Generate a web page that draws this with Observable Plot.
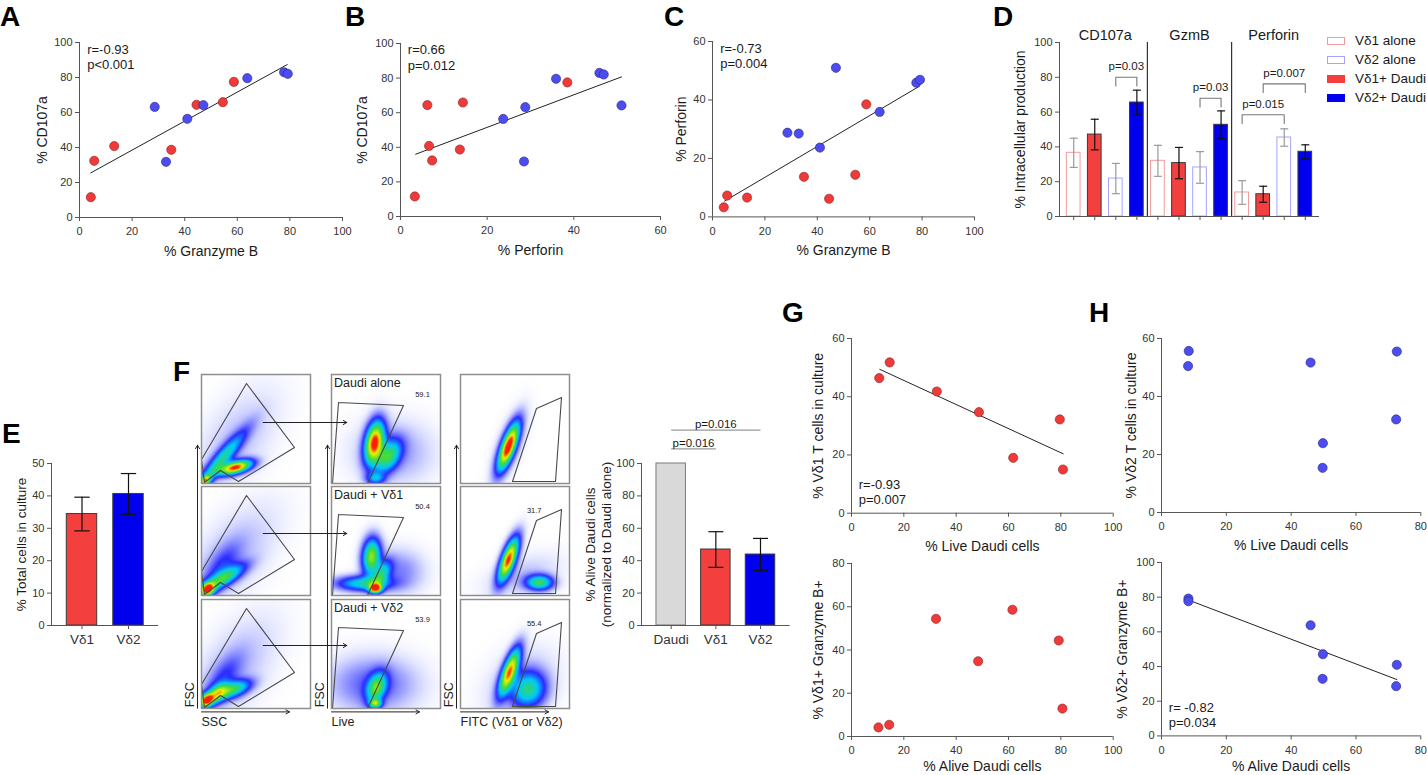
<!DOCTYPE html>
<html><head><meta charset="utf-8">
<script src="https://cdn.jsdelivr.net/npm/d3@7"></script>
<script src="https://cdn.jsdelivr.net/npm/@observablehq/plot@0.6"></script>
<style>
html,body{margin:0;padding:0;background:#fff;}
#root{position:relative;width:1427px;height:775px;overflow:hidden;background:#fff;font-family:'Liberation Sans',Arial,Helvetica,sans-serif;color:#1a1a1a;}
.letter{position:absolute;font-weight:bold;font-size:28px;line-height:28px;color:#000;}
.leg{position:absolute;font-size:13.5px;line-height:16px;white-space:nowrap;color:#1a1a1a;}
.sw{position:absolute;width:18px;height:8px;box-sizing:border-box;}
</style></head><body><div id="root"></div>
<script>
// ================= DATA =================
// Panels A–C : one point per donor (Vδ1 red, Vδ2 blue)
const gzmbVd1     = [4.3, 5.6, 13.2, 34.9, 44.5, 54.5, 58.7];
const cd107aVd1   = [11.6, 32.4, 40.8, 38.7, 64.4, 65.9, 77.5];
const perforinVd1 = [3.3, 7.3, 6.6, 13.7, 6.2, 14.4, 38.5];
const gzmbVd2     = [28.6, 32.9, 41.0, 47.1, 63.8, 77.8, 79.2];
const cd107aVd2   = [63.2, 31.8, 56.4, 64.2, 79.6, 83.0, 82.1];
const perforinVd2 = [28.8, 28.5, 23.7, 51.0, 35.9, 45.9, 46.9];
const fitA = {x: [4.3, 79.0], y: [25.5, 87.4]};
const fitB = {x: [3.5, 51.0], y: [36.0, 80.7]};
const fitC = {x: [4.6, 79.0], y: [5.4, 44.7]};
const statsA = ["r=-0.93", "p<0.001"];
const statsB = ["r=0.66", "p=0.012"];
const statsC = ["r=-0.73", "p=0.004"];

// Panel D
const dMarkers = ["CD107a", "GzmB", "Perforin"];
const dGroups = ["Vδ1 alone", "Vδ1+ Daudi", "Vδ2 alone", "Vδ2+ Daudi"];
const dMeanCD107a   = [36.6, 47.1, 21.8, 65.5];
const dMeanGzmB     = [32.0, 30.7, 28.2, 52.7];
const dMeanPerforin = [13.8, 12.8, 45.4, 37.2];
const dSemCD107a    = [8.4, 8.8, 8.7, 7.1];
const dSemGzmB      = [8.9, 9.0, 9.1, 8.0];
const dSemPerforin  = [6.8, 4.6, 5.0, 4.0];
const dPvalues = [
  {marker: 0, a: 2, b: 3, y: 80, label: "p=0.03"},
  {marker: 1, a: 2, b: 3, y: 68, label: "p=0.03"},
  {marker: 2, a: 0, b: 2, y: 58.5, label: "p=0.015"},
  {marker: 2, a: 1, b: 3, y: 76.2, label: "p=0.007"}
];
const dLegendOrder = [0, 2, 1, 3];

// Panel E
const eCats = ["Vδ1", "Vδ2"];
const eMean = [34.4, 40.6];
const eSem  = [5.2, 6.3];

// Panel F (bar chart)
const fCats = ["Daudi", "Vδ1", "Vδ2"];
const fMean = [100, 46.9, 43.8];
const fSem  = [0, 11.0, 9.95];
const fPvalues = [
  {a: 0, b: 1, y: 109, label: "p=0.016"},
  {a: 0, b: 2, y: 120.6, label: "p=0.016"}
];

// Panel F (flow cytometry gating examples)
const flowRows = ["Daudi alone", "Daudi + Vδ1", "Daudi + Vδ2"];
const livePct = ["59.1", "50.4", "53.9"];
const fitcPct = ["", "31.7", "55.4"];
const flowAxisX = ["SSC", "Live", "FITC (Vδ1 or Vδ2)"];
const gateScatter = [[0, 85], [45, 9], [93, 73], [37, 107], [19, 96], [3, 108]];
const gateLive = [[7, 28], [72, 31], [36, 109], [1, 109]];
const gateFitc = [[52, 107], [76, 34], [101, 23], [95, 107]];
// populations: [cx, cy, rx, ry, angle°, weight] in box units (y downwards)
const popScatter = [
  [[34, 93, 11, 4, 15, 1.0], [20, 85, 24, 5, 50, 0.45], [35, 65, 38, 20, 55, 0.06], [4, 106, 4, 3, 45, 0.7]],
  [[6, 103, 5, 4, 40, 1.0], [22, 92, 16, 5, 30, 0.5], [20, 80, 18, 8, 55, 0.15], [30, 70, 40, 20, 50, 0.07]],
  [[5, 101, 5, 4, 40, 1.0], [32, 90, 12, 5, 20, 0.5], [16, 94, 8, 5, 40, 0.55], [22, 78, 18, 8, 55, 0.14], [32, 70, 40, 20, 55, 0.07]]
];
const popLive = [
  [[43, 68, 14, 6, 80, 1.0], [57, 82, 12, 7, 60, 0.5], [62, 78, 25, 20, 0, 0.1], [44, 104, 6, 4, 0, 0.3]],
  [[40, 70, 12, 6, 85, 0.7], [44, 102, 4, 3, 0, 1.0], [32, 97, 18, 5, 0, 0.45], [68, 85, 16, 14, 0, 0.12], [50, 88, 10, 5, 60, 0.4]],
  [[42, 85, 28, 18, 0, 0.16], [45, 88, 10, 6, 70, 0.55], [44, 104, 4, 3, 0, 0.6]]
];
const popFitc = [
  [[48, 72, 16, 4.5, 70, 1.0], [48, 72, 22, 7, 70, 0.12]],
  [[48, 73, 15, 4.5, 70, 1.0], [79, 96, 9, 5, 0, 0.55], [62, 90, 25, 12, 20, 0.06]],
  [[49, 72, 16, 4.5, 70, 0.9], [68, 90, 12, 11, 60, 0.45], [60, 85, 25, 18, 45, 0.08]]
];
const flowArrowY = [48, 47, 46];

// Panel G / H
const liveDaudiVd1 = [10.6, 14.6, 32.6, 48.7, 61.8, 79.6, 80.8];
const vd1InCulture = [46.4, 51.8, 41.8, 34.7, 19.0, 32.2, 15.0];
const aliveDaudiVd1 = [10.3, 14.4, 32.3, 48.4, 61.5, 79.2, 80.6];
const vd1GzmbPos = [4.2, 5.4, 54.4, 34.8, 58.6, 44.4, 12.9];
const liveDaudiVd2 = [8.4, 8.2, 46.0, 49.8, 49.7, 72.6, 72.4];
const vd2InCulture = [55.7, 50.5, 51.7, 23.9, 15.4, 55.5, 32.1];
const aliveDaudiVd2 = [8.3, 8.3, 46.0, 49.8, 49.7, 72.6, 72.4];
const vd2GzmbPos = [79.2, 77.7, 63.8, 47.1, 32.9, 41.0, 28.7];
const fitG = {x: [10.8, 80.9], y: [49.4, 20.4]};
const fitH = {x: [8.4, 72.6], y: [78.3, 32.5]};
const statsG = ["r=-0.93", "p=0.007"];
const statsH = ["r= -0.82", "p=0.034"];

// ================= STYLE / HELPERS =================
const root = document.getElementById("root");
const FONT = "'Liberation Sans', Arial, Helvetica, sans-serif";
const AX = "#555", TK = "#333", TXT = "#1a1a1a";
const RED = "#f03a3a", RED_S = "#8a2020", BLUE = "#4c4cf0", BLUE_S = "#26267a";
const BAR_RED = "#f43f3f", BAR_BLUE = "#0000ee";

function mount(el, left, top) {
  el.style.position = "absolute";
  el.style.left = left + "px";
  el.style.top = top + "px";
  root.appendChild(el);
}
function letter(ch, x, base) {
  const d = document.createElement("div");
  d.className = "letter"; d.textContent = ch;
  d.style.left = x + "px"; d.style.top = (base - 23.7) + "px";
  root.appendChild(d);
}
function panel(frame, options, pad = [24, 24, 50, 64]) {
  const [mt, mr, mb, ml] = pad;
  const svg = Plot.plot({
    width: frame.r - frame.l + ml + mr,
    height: frame.b - frame.t + mt + mb,
    marginTop: mt, marginRight: mr, marginBottom: mb, marginLeft: ml,
    style: {background: "transparent", overflow: "visible", fontFamily: FONT, fontSize: "11px", color: TK},
    ...options
  });
  mount(svg, frame.l - ml, frame.t - mt);
  return svg;
}
function axes(xDomain, yDomain, xOpt = {}, yOpt = {}) {
  return [
    Plot.ruleY([yDomain[0]], {stroke: AX, strokeWidth: 1}),
    Plot.ruleX([xDomain[0]], {stroke: AX, strokeWidth: 1}),
    Plot.axisX({anchor: "bottom", tickSize: 4, tickPadding: 6, stroke: AX, fill: TK, fontSize: 11, label: null, ...xOpt}),
    Plot.axisY({anchor: "left", tickSize: 4, tickPadding: 3, stroke: AX, fill: TK, fontSize: 11, label: null, ...yOpt})
  ];
}
function titles(xTitle, yTitle, dy, dx, size = 14) {
  const m = [];
  if (xTitle) m.push(Plot.text([xTitle], {text: d => d, frameAnchor: "bottom", dy, lineAnchor: "middle", textAnchor: "middle", fontSize: size, fill: TXT}));
  if (yTitle) m.push(Plot.text([yTitle], {text: d => d, frameAnchor: "left", dx, rotate: -90, lineAnchor: "middle", textAnchor: "middle", fontSize: size, fill: TXT, lineHeight: 1.2}));
  return m;
}
function statText(lines, anchor, dx, dy0) {
  return lines.map((s, i) => Plot.text([s], {text: d => d, frameAnchor: anchor, dx, dy: dy0 + i * 15.3, textAnchor: "start", lineAnchor: "middle", fontSize: 13, fill: TXT}));
}
function scatter(cfg) {
  const marks = [...axes(cfg.xDomain, cfg.yDomain, {ticks: cfg.xTicks}, {ticks: cfg.yTicks})];
  if (cfg.fit) marks.push(Plot.line(d3.zip(cfg.fit.x, cfg.fit.y), {x: d => d[0], y: d => d[1], stroke: "#222", strokeWidth: 1}));
  for (const s of cfg.sets) marks.push(Plot.dot(d3.zip(s.x, s.y), {x: d => d[0], y: d => d[1], r: 4.6, fill: s.fill, stroke: s.stroke, strokeWidth: 0.6}));
  if (cfg.stats) marks.push(...statText(cfg.stats, cfg.statAnchor, cfg.statDx, cfg.statDy));
  marks.push(...titles(cfg.xTitle, cfg.yTitle, cfg.titleDy, cfg.titleDx));
  panel(cfg.frame, {x: {domain: cfg.xDomain}, y: {domain: cfg.yDomain}, marks});
}
function errorMarks(rows, capHalf, color) {
  const r = rows.filter(d => d.sem > 0);
  return [
    Plot.ruleX(r, {x: "i", y1: d => d.mean - d.sem, y2: d => d.mean + d.sem, stroke: color, strokeWidth: 1.2}),
    Plot.link(r, {x1: d => d.i - capHalf, x2: d => d.i + capHalf, y1: d => d.mean + d.sem, y2: d => d.mean + d.sem, stroke: color, strokeWidth: 1.2}),
    Plot.link(r, {x1: d => d.i - capHalf, x2: d => d.i + capHalf, y1: d => d.mean - d.sem, y2: d => d.mean - d.sem, stroke: color, strokeWidth: 1.2})
  ];
}
const set1 = (x, y) => ({x, y, fill: RED, stroke: RED_S});
const set2 = (x, y) => ({x, y, fill: BLUE, stroke: BLUE_S});
const T100 = [0, 20, 40, 60, 80, 100], T60 = [0, 20, 40, 60], T80 = [0, 20, 40, 60, 80];

// ================= PANELS A–C =================
scatter({frame: {l: 79, r: 342, t: 42, b: 217}, xDomain: [0, 100], yDomain: [0, 100], xTicks: T100, yTicks: T100,
  sets: [set1(gzmbVd1, cd107aVd1), set2(gzmbVd2, cd107aVd2)], fit: fitA,
  stats: statsA, statAnchor: "top-left", statDx: 7.7, statDy: 7,
  xTitle: "% Granzyme B", yTitle: "% CD107a", titleDy: 33.8, titleDx: -38});
scatter({frame: {l: 400, r: 660, t: 43.3, b: 216.3}, xDomain: [0, 60], yDomain: [0, 100], xTicks: T60, yTicks: T100,
  sets: [set1(perforinVd1, cd107aVd1), set2(perforinVd2, cd107aVd2)], fit: fitB,
  stats: statsB, statAnchor: "top-left", statDx: 7.3, statDy: 6.7,
  xTitle: "% Perforin", yTitle: "% CD107a", titleDy: 33.8, titleDx: -39});
scatter({frame: {l: 712.3, r: 974.3, t: 41.3, b: 216.7}, xDomain: [0, 100], yDomain: [0, 60], xTicks: T100, yTicks: T60,
  sets: [set1(gzmbVd1, perforinVd1), set2(gzmbVd2, perforinVd2)], fit: fitC,
  stats: statsC, statAnchor: "top-left", statDx: 7.7, statDy: 7,
  xTitle: "% Granzyme B", yTitle: "% Perforin", titleDy: 33.8, titleDx: -31.5});

// ================= PANEL D =================
(function () {
  const means = [dMeanCD107a, dMeanGzmB, dMeanPerforin], sems = [dSemCD107a, dSemGzmB, dSemPerforin];
  const rows = [];
  dMarkers.forEach((m, g) => dGroups.forEach((s, k) => rows.push({i: g * dGroups.length + k, g, k, mean: means[g][k], sem: sems[g][k]})));
  const fills = ["#ffffff", BAR_RED, "#ffffff", BAR_BLUE];
  const strokes = ["#f49a9a", "#3a3a3a", "#a5a5ff", "#3a3a3a"];
  const errC = ["#9a9a9a", "#111", "#9a9a9a", "#111"];
  const n = rows.length, G = dGroups.length;
  const xDomain = [-0.675, n - 1 + 0.675], yDomain = [0, 100];
  const marks = [];
  dGroups.forEach((s, k) => marks.push(Plot.rectY(rows.filter(d => d.k === k), {x1: d => d.i - 0.325, x2: d => d.i + 0.325, y1: 0, y2: "mean", fill: fills[k], stroke: strokes[k], strokeWidth: 1})));
  dGroups.forEach((s, k) => marks.push(...errorMarks(rows.filter(d => d.k === k), 0.19, errC[k])));
  marks.push(Plot.ruleX(dMarkers.slice(1).map((m, g) => (g + 1) * G - 0.5), {x: d => d, y1: 0, y2: 100, stroke: "#333", strokeWidth: 1.2}));
  marks.push(Plot.text(dMarkers, {x: (d, g) => g * G + (G - 1) / 2, y: 100, dy: -7, text: d => d, fontSize: 14.5, fill: TXT, lineAnchor: "middle"}));
  for (const p of dPvalues) {
    const xa = p.marker * G + p.a, xb = p.marker * G + p.b;
    marks.push(Plot.line([[xa, p.y - 5], [xa, p.y], [xb, p.y], [xb, p.y - 5]], {x: d => d[0], y: d => d[1], stroke: "#777", strokeWidth: 1.1}));
    marks.push(Plot.text([p.label], {x: (xa + xb) / 2, y: p.y + 6.2, text: d => d, fontSize: 11.5, fill: TXT, lineAnchor: "middle"}));
  }
  marks.push(...axes(xDomain, yDomain, {ticks: rows.map(d => d.i), tickFormat: () => ""}, {ticks: T100}));
  marks.push(...titles(null, "% Intracellular production", 0, -40));
  panel({l: 1059, r: 1319, t: 42.3, b: 216.3}, {x: {domain: xDomain}, y: {domain: yDomain}, marks});

  // legend (HTML)
  const sw = [
    {bg: "#fff", bd: "#f49a9a"}, {bg: BAR_RED, bd: BAR_RED}, {bg: "#fff", bd: "#a5a5ff"}, {bg: BAR_BLUE, bd: BAR_BLUE}
  ];
  dLegendOrder.forEach((k, j) => {
    const cy = 41.3 + j * 19;
    const s = document.createElement("div");
    s.className = "sw";
    s.style.left = "1326.5px"; s.style.top = (cy - 4) + "px";
    s.style.background = sw[k].bg; s.style.border = "1.2px solid " + sw[k].bd;
    root.appendChild(s);
    const t = document.createElement("div");
    t.className = "leg"; t.textContent = dGroups[k];
    t.style.left = "1355px"; t.style.top = (cy - 8) + "px";
    root.appendChild(t);
  });
})();

// ================= PANEL E =================
(function () {
  const rows = eCats.map((c, i) => ({i, mean: eMean[i], sem: eSem[i]}));
  const colors = [BAR_RED, BAR_BLUE];
  const xDomain = [-0.656, eCats.length - 1 + 0.645], yDomain = [0, 50];
  const marks = [];
  rows.forEach(r => marks.push(Plot.rectY([r], {x1: d => d.i - 0.327, x2: d => d.i + 0.327, y1: 0, y2: "mean", fill: colors[r.i], stroke: "#3a3a3a", strokeWidth: 1})));
  marks.push(...errorMarks(rows, 0.165, "#111"));
  marks.push(...axes(xDomain, yDomain, {ticks: rows.map(d => d.i), tickFormat: i => eCats[i], fontSize: 13.5, tickPadding: 5}, {ticks: [0, 10, 20, 30, 40, 50]}));
  marks.push(...titles(null, "% Total cells in culture", 0, -31, 13.5));
  panel({l: 51, r: 158, t: 463.3, b: 625.3}, {x: {domain: xDomain}, y: {domain: yDomain}, marks});
})();

// ================= PANEL F : bar chart =================
(function () {
  const rows = fCats.map((c, i) => ({i, mean: fMean[i], sem: fSem[i]}));
  const fills = ["#d9d9d9", BAR_RED, BAR_BLUE];
  const strokes = ["#7a7a7a", "#3a3a3a", "#3a3a3a"];
  const xDomain = [-0.665, fCats.length - 1 + 0.665], yDomain = [0, 100];
  const marks = [];
  rows.forEach(r => marks.push(Plot.rectY([r], {x1: d => d.i - 0.33, x2: d => d.i + 0.33, y1: 0, y2: "mean", fill: fills[r.i], stroke: strokes[r.i], strokeWidth: 1})));
  marks.push(...errorMarks(rows, 0.168, "#111"));
  marks.push(Plot.link(fPvalues, {x1: "a", x2: "b", y1: "y", y2: "y", stroke: "#999", strokeWidth: 1.3}));
  marks.push(Plot.text(fPvalues, {x: d => (d.a + d.b) / 2, y: d => d.y + 3.6, text: "label", fontSize: 11.5, fill: TXT, lineAnchor: "middle"}));
  marks.push(...axes(xDomain, yDomain, {ticks: rows.map(d => d.i), tickFormat: i => fCats[i], fontSize: 13.5, tickPadding: 5}, {ticks: T100}));
  marks.push(...titles(null, "% Alive Daudi cells\n(normalized to Daudi alone)", 0, -44, 13.5));
  panel({l: 641.3, r: 790, t: 463.3, b: 625.3}, {x: {domain: xDomain}, y: {domain: yDomain}, marks});
})();

// ================= PANEL F : flow plots =================
const flowBox = 109;
const flowColLeft = [201, 331.3, 460.3];
const flowRowTop = [374, 486.3, 599.3];
function density(pops) {
  const B = pops.map(([cx, cy, rx, ry, a, w]) => {
    const t = a * Math.PI / 180;
    return {cx, cy, rx, ry, c: Math.cos(t), s: Math.sin(t), w};
  });
  return (x, y) => {
    let v = 0;
    for (const b of B) {
      const dx = x - b.cx, dy = y - b.cy;
      const u = dx * b.c - dy * b.s, q = dx * b.s + dy * b.c;
      v += b.w * Math.exp(-0.5 * (u * u / (b.rx * b.rx) + q * q / (b.ry * b.ry)));
    }
    return v;
  };
}
function flowPanel(col, row) {
  const pops = [popScatter, popLive, popFitc][col][row];
  const gate = [gateScatter, gateLive, gateFitc][col];
  const marks = [];
  if (typeof Plot.raster === "function") {
    marks.push(Plot.raster({fill: density(pops), x1: 0, y1: 0, x2: flowBox, y2: flowBox, pixelSize: 1, imageRendering: "auto"}));
  }
  marks.push(Plot.line([...gate, gate[0]], {x: d => d[0], y: d => d[1], stroke: "#4a4a4a", strokeWidth: 1.1}));
  marks.push(Plot.frame({stroke: "#8e8e8e", strokeWidth: 1.5}));
  if (col === 1) {
    marks.push(Plot.text([flowRows[row]], {text: d => d, frameAnchor: "top-left", dx: 2.5, dy: 8.5, textAnchor: "start", lineAnchor: "middle", fontSize: 12.5, fill: "#222"}));
    marks.push(Plot.text([livePct[row]], {text: d => d, frameAnchor: "top-left", dx: 91, dy: 20.5, textAnchor: "middle", lineAnchor: "middle", fontSize: 7.5, fill: "#222"}));
    marks.push(Plot.arrow([flowArrowY[row]], {x1: 62 + flowColLeft[0] - flowColLeft[1], x2: 15.3, y1: d => d, y2: d => d, stroke: "#222", strokeWidth: 1, headLength: 6}));
  }
  if (col === 2 && fitcPct[row]) {
    marks.push(Plot.text([fitcPct[row]], {text: d => d, frameAnchor: "top-left", dx: 73.7, dy: 23.8, textAnchor: "middle", lineAnchor: "middle", fontSize: 7.5, fill: "#222"}));
  }
  if (row === flowRowTop.length - 1) {
    marks.push(Plot.arrow([0], {x1: -4, x2: -4, y1: 108.7, y2: 445 - flowRowTop[row], stroke: "#222", strokeWidth: 1, headLength: 6}));
    marks.push(Plot.arrow([0], {x1: 0, x2: 88, y1: 112.4, y2: 112.4, stroke: "#222", strokeWidth: 1, headLength: 6}));
    marks.push(Plot.text(["FSC"], {text: d => d, x: -11.5, y: 107.7, rotate: -90, textAnchor: "start", lineAnchor: "middle", fontSize: 12.5, fill: "#222"}));
    marks.push(Plot.text([flowAxisX[col]], {text: d => d, x: 0, y: 122.7, textAnchor: "start", lineAnchor: "middle", fontSize: 12.5, fill: "#222"}));
  }
  panel({l: flowColLeft[col], r: flowColLeft[col] + flowBox, t: flowRowTop[row], b: flowRowTop[row] + flowBox}, {
    x: {domain: [0, flowBox], axis: null},
    y: {domain: [flowBox, 0], axis: null},
    color: {type: "linear", domain: [0, 0.03, 0.09, 0.2, 0.38, 0.6, 0.85, 1],
            range: ["#ffffff", "#dfe2ff", "#9a9eff", "#2a2aff", "#00c8ff", "#3ddc3d", "#f2f200", "#ff1e00"],
            interpolate: "rgb", clamp: true},
    marks
  }, [20, 20, 20, 20]);
}
for (let c = 0; c < 3; c++) for (let r = 0; r < 3; r++) flowPanel(c, r);

// ================= PANELS G / H =================
scatter({frame: {l: 851, r: 1112.7, t: 338, b: 512.7}, xDomain: [0, 100], yDomain: [0, 60], xTicks: T100, yTicks: T60,
  sets: [set1(liveDaudiVd1, vd1InCulture)], fit: fitG,
  stats: statsG, statAnchor: "bottom-left", statDx: 7.3, statDy: -28.7,
  xTitle: "% Live Daudi cells", yTitle: "% Vδ1 T cells in culture", titleDy: 33.8, titleDx: -33.5});
scatter({frame: {l: 851, r: 1112.7, t: 563.3, b: 736.3}, xDomain: [0, 100], yDomain: [0, 80], xTicks: T100, yTicks: T80,
  sets: [set1(aliveDaudiVd1, vd1GzmbPos)],
  xTitle: "% Alive Daudi cells", yTitle: "% Vδ1+ Granzyme B+", titleDy: 30, titleDx: -33.5});
scatter({frame: {l: 1161, r: 1420.3, t: 338.3, b: 512.3}, xDomain: [0, 80], yDomain: [0, 60], xTicks: T80, yTicks: T60,
  sets: [set2(liveDaudiVd2, vd2InCulture)],
  xTitle: "% Live Daudi cells", yTitle: "% Vδ2 T cells in culture", titleDy: 33, titleDx: -31});
scatter({frame: {l: 1161, r: 1420.3, t: 562.3, b: 735.7}, xDomain: [0, 80], yDomain: [0, 100], xTicks: T80, yTicks: T100,
  sets: [set2(aliveDaudiVd2, vd2GzmbPos)], fit: fitH,
  stats: statsH, statAnchor: "bottom-left", statDx: 7.3, statDy: -28.4,
  xTitle: "% Alive Daudi cells", yTitle: "% Vδ2+ Granzyme B+", titleDy: 30.3, titleDx: -40});

// ================= PANEL LETTERS =================
letter("A", 0, 27); letter("B", 345, 27); letter("C", 664, 27); letter("D", 993, 27);
letter("E", 2, 444); letter("F", 173, 382); letter("G", 782, 323); letter("H", 1089, 323);
</script></body></html>
